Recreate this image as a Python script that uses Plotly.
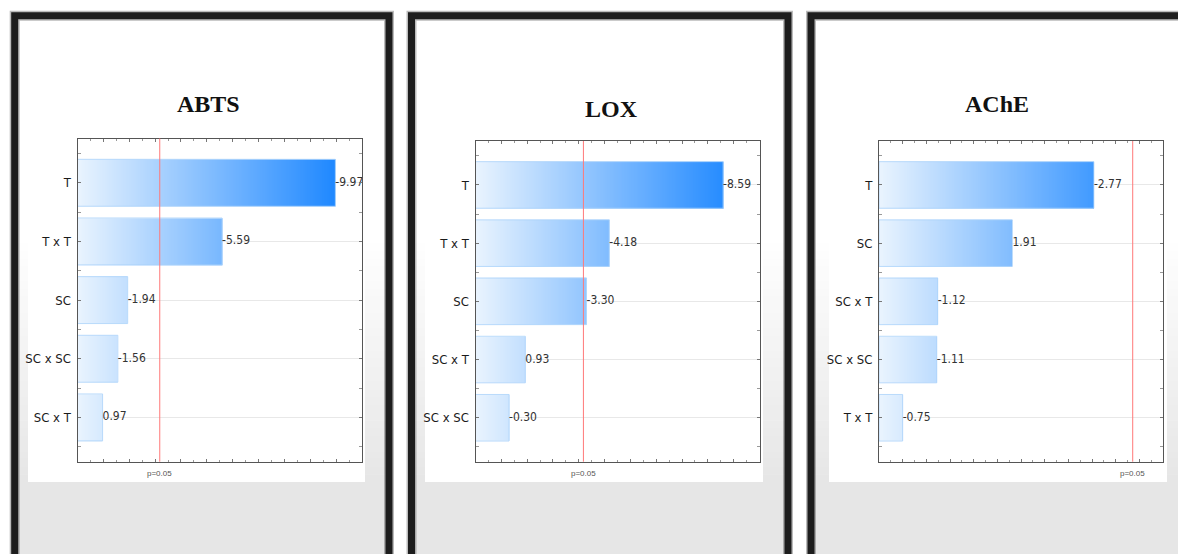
import plotly.graph_objects as go

W, H = 1178, 554

# Standardized effects (signed), listed in ranked order for each response
abts_terms = ["T", "T x T", "SC", "SC x SC", "SC x T"]
abts_effects = [-9.97, -5.59, -1.94, -1.56, 0.97]

lox_terms = ["T", "T x T", "SC", "SC x T", "SC x SC"]
lox_effects = [-8.59, -4.18, -3.30, 0.93, -0.30]

ache_terms = ["T", "SC", "SC x T", "SC x SC", "T x T"]
ache_effects = [-2.77, 1.91, -1.12, -1.11, -0.75]

titles = ["ABTS", "LOX", "AChE"]
t_crit = 3.18          # critical value at p = 0.05
p_label = "p=0.05"

NARROW = "Liberation Sans Narrow, DejaVu Sans Condensed, Arial Narrow, sans-serif"


def fx(px):
    return px / W


def fy(py):
    return 1 - py / H


# layout of the three panels (pixel geometry)
panels = [
    dict(terms=abts_terms, effects=abts_effects, title=titles[0], xr=(0, 11), dt=1.0,
         plot_x=(77.5, 362), plot_y=(138.5, 461.7), title_xy=(208, 103.5),
         frame=(14.7, 389), card=(28, 365)),
    dict(terms=lox_terms, effects=lox_effects, title=titles[1], xr=(-1, 10), dt=1.0,
         plot_x=(475.5, 759.5), plot_y=(141, 461.7), title_xy=(611, 108.5),
         frame=(411.5, 788), card=(425, 763)),
    dict(terms=ache_terms, effects=ache_effects, title=titles[2], xr=(0.5, 3.5), dt=0.25,
         plot_x=(879, 1163), plot_y=(141, 461.7), title_xy=(997, 103.5),
         frame=(811, 1195), card=(829, 1167)),
]

fig = go.Figure()
shapes = []
annotations = []

c0 = (234, 244, 254)
c1 = (10, 125, 255)
colorscale = [[0, "rgb(%d,%d,%d)" % c0], [1, "rgb(%d,%d,%d)" % c1]]

for k, p in enumerate(panels):
    ax = "" if k == 0 else str(k + 1)
    xa, ya = "x" + ax, "y" + ax
    lo, hi = p["xr"]
    mags = [abs(v) for v in p["effects"]]
    idx = list(range(len(mags)))

    # ---- panel background: white top fading into light grey, dark frame
    fl, fr = p["frame"]
    shapes.append(dict(type="rect", xref="paper", yref="paper", layer="below",
                       x0=fx(fl), x1=fx(fr), y0=fy(20), y1=fy(570),
                       fillcolor="white", line=dict(width=0)))
    n_strip = 32
    g_top, g_bot = 235.0, 482.0
    for s in range(n_strip):
        t = (s + 0.5) / n_strip
        v = int(round(255 - (255 - 230) * t))
        ya0 = g_top + (g_bot - g_top) * s / n_strip
        ya1 = g_top + (g_bot - g_top) * (s + 1) / n_strip + 0.5
        shapes.append(dict(type="rect", xref="paper", yref="paper", layer="below",
                           x0=fx(fl), x1=fx(fr), y0=fy(ya0), y1=fy(ya1),
                           fillcolor="rgb(%d,%d,%d)" % (v, v, v), line=dict(width=0)))
    shapes.append(dict(type="rect", xref="paper", yref="paper", layer="below",
                       x0=fx(fl), x1=fx(fr), y0=fy(g_bot), y1=fy(570),
                       fillcolor="rgb(230,230,230)", line=dict(width=0)))
    cl, cr = p["card"]
    shapes.append(dict(type="rect", xref="paper", yref="paper", layer="below",
                       x0=fx(cl), x1=fx(cr), y0=fy(30), y1=fy(482),
                       fillcolor="white", line=dict(width=0)))
    # soft halo, then the dark frame itself
    shapes.append(dict(type="rect", xref="paper", yref="paper", layer="above",
                       x0=fx(fl), x1=fx(fr), y0=fy(15.8), y1=fy(562),
                       fillcolor="rgba(0,0,0,0)", line=dict(color="rgba(60,60,60,0.35)", width=10)))
    shapes.append(dict(type="rect", xref="paper", yref="paper", layer="above",
                       x0=fx(fl), x1=fx(fr), y0=fy(15.8), y1=fy(562),
                       fillcolor="rgba(0,0,0,0)", line=dict(color="#1d1d1d", width=7)))

    # ---- gradient-filled bars (heatmap cells coloured by horizontal position)
    n = 320
    grid = [round(lo + (hi - lo) * j / n, 6) for j in range(n + 1)]
    edges = sorted(set(grid + [round(m, 6) for m in mags]))
    centers = [(a + b) / 2 for a, b in zip(edges[:-1], edges[1:])]
    rights = edges[1:]
    z = []
    yedges = []
    half = 0.4
    for i, m in enumerate(mags):
        z.append([(c - lo) / (hi - lo) if r <= m + 1e-9 else None
                  for c, r in zip(centers, rights)])
        yedges += [i - half, i + half]
        if i < len(mags) - 1:
            z.append([None] * len(centers))
    fig.add_trace(go.Heatmap(x=edges, y=yedges, z=z, xaxis=xa, yaxis=ya,
                             colorscale=colorscale, zmin=0, zmax=1, showscale=False,
                             hoverinfo="skip"))

    # bar outlines, from the axis floor to each effect magnitude
    fig.add_trace(go.Bar(y=idx, x=[m - lo for m in mags], base=lo, orientation="h",
                         width=2 * half, xaxis=xa, yaxis=ya,
                         marker=dict(color="rgba(0,0,0,0)",
                                     line=dict(color="rgba(170,210,250,0.8)", width=1)),
                         hoverinfo="skip"))

    # signed effect labels at the bar ends
    fig.add_trace(go.Scatter(x=mags, y=idx, mode="text", xaxis=xa, yaxis=ya,
                             text=["%.2f" % v for v in p["effects"]],
                             textposition="middle right",
                             textfont=dict(family=NARROW, size=12, color="#333333"),
                             cliponaxis=False, hoverinfo="skip"))

    # p = 0.05 reference line
    shapes.append(dict(type="line", xref=xa, yref=ya + " domain", layer="above",
                       x0=t_crit, x1=t_crit, y0=0, y1=1,
                       line=dict(color="rgb(255,120,120)", width=1)))
    annotations.append(dict(x=t_crit, y=fy(473.5), xref=xa, yref="paper",
                            xanchor="center", yanchor="middle",
                            text=p_label, showarrow=False,
                            font=dict(family="Liberation Sans, Arial, sans-serif",
                                      size=8, color="#555555")))

    # panel title
    tx, ty = p["title_xy"]
    annotations.append(dict(x=fx(tx), y=fy(ty), xref="paper", yref="paper",
                            xanchor="center", yanchor="middle",
                            text="<b>%s</b>" % p["title"], showarrow=False,
                            font=dict(family="Liberation Serif, Times New Roman, serif",
                                      size=24, color="#111111")))

    px0, px1 = p["plot_x"]
    py0, py1 = p["plot_y"]
    fig.update_layout(**{
        "xaxis" + ax: dict(domain=[fx(px0), fx(px1)], anchor=ya, range=[lo, hi],
                           showgrid=False, zeroline=False, showticklabels=False,
                           showline=True, linecolor="#555555", linewidth=1, mirror="ticks",
                           ticks="inside", ticklen=3, tickcolor="#777777",
                           tick0=lo, dtick=p["dt"],
                           minor=dict(ticks="inside", ticklen=2, tickcolor="#999999",
                                      nticks=4, showgrid=False)),
        "yaxis" + ax: dict(domain=[fy(py1), fy(py0)], anchor=xa,
                           range=[len(mags) - 1 + 0.755, -0.755],
                           tickmode="array", tickvals=idx, ticktext=p["terms"],
                           showgrid=True, gridcolor="#e8e8e8", gridwidth=1,
                           zeroline=False, showline=True, linecolor="#555555",
                           linewidth=1, mirror="ticks", ticks="inside", ticklen=3,
                           tickcolor="#777777", ticklabelstandoff=3,
                           tickfont=dict(family=NARROW, size=13, color="#1a1a1a"),
                           minor=dict(ticks="inside", ticklen=3, tickcolor="#999999",
                                      tick0=0.5, dtick=1, showgrid=False)),
    })

fig.update_layout(width=W, height=H, margin=dict(l=0, r=0, t=0, b=0),
                  paper_bgcolor="white", plot_bgcolor="rgba(0,0,0,0)",
                  showlegend=False, shapes=shapes, annotations=annotations,
                  barmode="overlay")

fig.write_html("out.html")
